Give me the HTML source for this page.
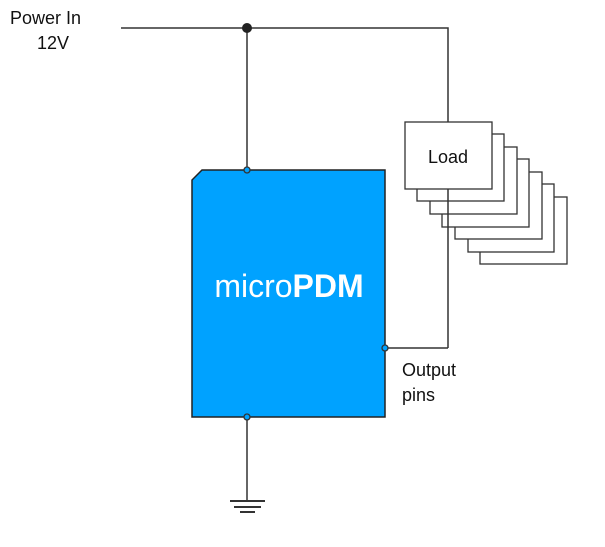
<!DOCTYPE html>
<html><head><style>body{margin:0;background:#fff}</style></head><body>
<svg width="605" height="542" xmlns="http://www.w3.org/2000/svg" font-family="Liberation Sans, sans-serif">
<g fill="#fff" stroke="#333" stroke-width="1.3">
<rect x="480" y="197" width="87" height="67"/>
<rect x="468" y="184" width="86" height="68"/>
<rect x="455" y="172" width="87" height="67"/>
<rect x="442" y="159" width="87" height="68"/>
<rect x="430" y="147" width="87" height="67"/>
<rect x="417" y="134" width="87" height="67"/>
</g>
<rect x="405" y="122" width="87" height="67" fill="#fff" stroke="#333" stroke-width="1.3"/>
<g stroke="#333" stroke-width="1.5" fill="none">
<polyline points="121,28 448,28 448,122"/>
<line x1="448" y1="189" x2="448" y2="348"/>
<line x1="385" y1="348" x2="448" y2="348"/>
<line x1="247" y1="28" x2="247" y2="170"/>
<line x1="247" y1="417" x2="247" y2="501"/>
<line x1="230" y1="501" x2="265" y2="501" stroke-width="2"/>
<line x1="234" y1="507" x2="261" y2="507" stroke-width="2"/>
<line x1="240" y1="512" x2="255" y2="512" stroke-width="2"/>
</g>
<text x="448" y="163" font-size="18" text-anchor="middle" fill="#111">Load</text>
<circle cx="247" cy="28" r="5" fill="#222"/>
<polygon points="202,170 385,170 385,417 192,417 192,180" fill="#00a2ff" stroke="#222" stroke-width="1.5"/>
<text x="289" y="297" font-size="32" text-anchor="middle" fill="#fff">micro<tspan font-weight="bold">PDM</tspan></text>
<g fill="#00a2ff" stroke="#333" stroke-width="1.3">
<circle cx="247" cy="170" r="3"/><circle cx="247" cy="417" r="3"/><circle cx="385" cy="348" r="3"/>
</g>
<g font-size="18" fill="#111">
<text x="10" y="24">Power In</text>
<text x="37" y="49">12V</text>
<text x="402" y="376">Output</text>
<text x="402" y="401">pins</text>
</g>
</svg>
</body></html>
